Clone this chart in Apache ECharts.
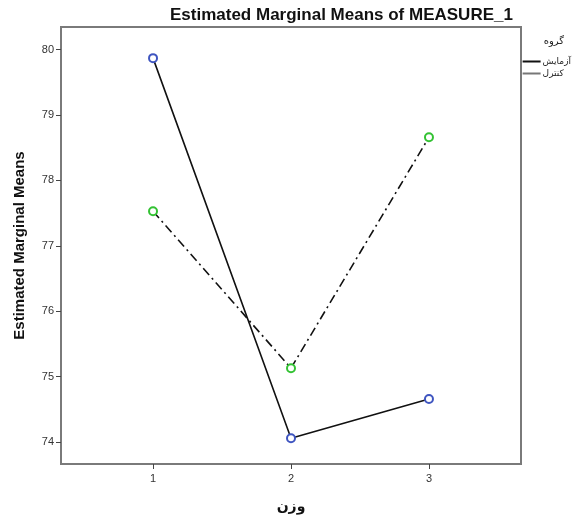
<!DOCTYPE html>
<html><head><meta charset="utf-8">
<script src="https://cdn.jsdelivr.net/npm/echarts@6/dist/echarts.min.js"></script>
<style>html,body{margin:0;padding:0;background:#fff}#c{width:578px;height:519px}</style>
</head><body><div id="c"></div>
<script>
const xLevels = [1, 2, 3];
const seriesNames = ['آزمایش', 'کنترل'];
const experimentValues = [79.87, 74.06, 74.66];
const controlValues = [77.53, 75.13, 78.66];
const yTicks = [74, 75, 76, 77, 78, 79, 80];
const legendTitle = 'گروه';
const chartTitle = 'Estimated Marginal Means of MEASURE_1';
const yName = 'Estimated Marginal Means';
const xName = 'وزن';

const chart = echarts.init(document.getElementById('c'), null, {renderer: 'canvas'});
const ff = '"Liberation Sans", Arial, sans-serif';
const expData = xLevels.map((x, i) => [x, experimentValues[i]]);
const ctlData = xLevels.map((x, i) => [x, controlValues[i]]);
chart.setOption({
  animation: false,
  backgroundColor: '#fff',
  title: {
    text: chartTitle, left: 165, top: 2,
    textStyle: {fontFamily: ff, fontSize: 17, fontWeight: 'bold', color: '#111'}
  },
  legend: {
    right: 2, top: 52, orient: 'vertical', itemGap: 3,
    icon: 'rect', itemWidth: 18, itemHeight: 2,
    itemStyle: {borderWidth: 0},
    textStyle: {fontFamily: '"DejaVu Sans", sans-serif', fontSize: 9, color: '#222', padding: [0,0,0,-3]},
    data: [seriesNames[0], seriesNames[1]]
  },
  graphic: [{
    type: 'text', right: 14, top: 36,
    style: {text: legendTitle, font: '10px "DejaVu Sans", sans-serif', fill: '#222'}
  }],
  grid: {left: 61, top: 27, width: 460, height: 439, show: true, borderColor: '#7a7a7a', borderWidth: 2, containLabel: false},
  xAxis: {
    type: 'value', min: 0.333, max: 3.667,
    name: xName, nameLocation: 'middle', nameGap: 36,
    nameTextStyle: {fontFamily: '"DejaVu Sans", sans-serif', fontSize: 14, fontWeight: 'bold', color: '#111'},
    axisLine: {show: true, lineStyle: {color: '#7a7a7a', width: 2}},
    axisTick: {show: true, length: 5, customValues: xLevels, lineStyle: {color: '#444'}},
    axisLabel: {customValues: xLevels, fontFamily: ff, fontSize: 11, color: '#333', margin: 9},
    splitLine: {show: false}
  },
  yAxis: {
    type: 'value', min: 73.665, max: 80.346,
    name: yName, nameLocation: 'middle', nameGap: 34,
    nameTextStyle: {fontFamily: ff, fontSize: 15, fontWeight: 'bold', color: '#111'},
    axisLine: {show: true, lineStyle: {color: '#7a7a7a', width: 2}},
    axisTick: {show: true, length: 5, customValues: yTicks, lineStyle: {color: '#444'}},
    axisLabel: {customValues: yTicks, fontFamily: ff, fontSize: 11, color: '#333', margin: 7},
    splitLine: {show: false}
  },
  series: [
    {
      name: seriesNames[0], type: 'line', color: '#111',
      data: expData, symbol: 'none',
      lineStyle: {color: '#111', width: 1.6}
    },
    {
      name: seriesNames[1], type: 'line', color: '#777',
      data: ctlData, symbol: 'none',
      lineStyle: {color: '#111', width: 1.6, type: [9, 4, 2, 4]}
    },
    {
      name: 'm1', type: 'scatter', data: expData, z: 5,
      symbol: 'emptyCircle', symbolSize: 8,
      itemStyle: {color: '#3f55c0', borderWidth: 1.3, opacity: 1}
    },
    {
      name: 'm2', type: 'scatter', data: ctlData, z: 5,
      symbol: 'emptyCircle', symbolSize: 8,
      itemStyle: {color: '#33c233', borderWidth: 1.3, opacity: 1}
    }
  ]
});
</script></body></html>
